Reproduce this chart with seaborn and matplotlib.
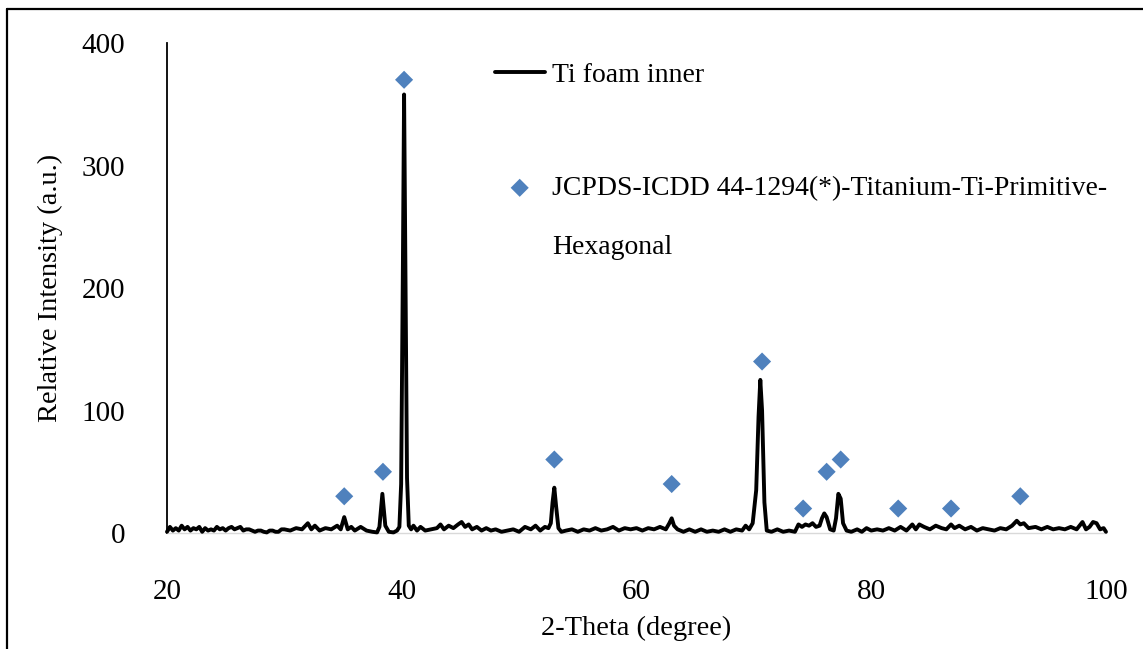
import matplotlib
matplotlib.use("Agg")
import matplotlib.pyplot as plt
from matplotlib.lines import Line2D
import seaborn as sns
import pandas as pd

two_theta = [
    20.0, 20.25, 20.5, 20.75, 21.0, 21.25, 21.5, 21.75, 22.0, 22.25,
    22.5, 22.75, 23.0, 23.25, 23.5, 23.75, 24.0, 24.25, 24.5, 24.75,
    25.0, 25.25, 25.5, 25.75, 26.0, 26.25, 26.5, 26.75, 27.0, 27.25,
    27.5, 27.75, 28.0, 28.25, 28.5, 28.75, 29.0, 29.25, 29.5, 29.75,
    30.0, 30.5, 31.0, 31.5, 32.0, 32.3, 32.6, 33.0, 33.5, 34.0, 34.5,
    34.8, 35.1, 35.4, 35.7, 36.0, 36.5, 37.0, 37.5,
    37.9, 38.1, 38.35, 38.6, 38.9, 39.3, 39.6,
    39.8, 39.95, 40.1, 40.2, 40.3, 40.45, 40.6, 40.8,
    41.0, 41.3, 41.6, 42.0, 42.5, 43.0, 43.3, 43.6, 44.0, 44.4,
    44.8, 45.1, 45.4, 45.7, 46.0, 46.4, 46.8, 47.2, 47.6, 48.0,
    48.5, 49.0, 49.5, 50.0, 50.5, 51.0, 51.4, 51.8, 52.2, 52.5,
    52.7, 52.85, 53.0, 53.15, 53.35, 53.6, 54.0, 54.5, 55.0, 55.5,
    56.0, 56.5, 57.0, 57.5, 58.0, 58.5, 59.0, 59.5, 60.0, 60.5,
    61.0, 61.5, 62.0, 62.5, 62.8, 63.0, 63.2, 63.5, 64.0, 64.5,
    65.0, 65.5, 66.0, 66.5, 67.0, 67.5, 68.0, 68.5, 69.0, 69.3,
    69.6, 69.9, 70.2, 70.4, 70.55, 70.7, 70.9, 71.1, 71.5, 72.0,
    72.5, 73.0, 73.5, 73.8, 74.1, 74.4, 74.7, 75.0, 75.3, 75.6,
    75.8, 76.0, 76.2, 76.5, 76.8, 77.0, 77.2, 77.4, 77.6, 77.9,
    78.3, 78.8, 79.2, 79.6, 80.0, 80.5, 81.0, 81.5, 82.0, 82.5,
    83.0, 83.5, 83.8, 84.1, 84.5, 85.0, 85.5, 86.0, 86.4, 86.8,
    87.1, 87.5, 88.0, 88.5, 89.0, 89.5, 90.0, 90.5, 91.0, 91.5,
    92.0, 92.4, 92.7, 93.0, 93.4, 94.0, 94.5, 95.0, 95.5, 96.0,
    96.5, 97.0, 97.5, 98.0, 98.3, 98.6, 98.9, 99.2, 99.5, 99.8, 100.0,
]
intensity = [
    1, 5, 2, 4, 2, 6, 3, 5, 2, 4,
    3, 5, 1, 4, 2, 3, 2, 5, 3, 4,
    2, 4, 5, 3, 4, 5, 2, 3, 3, 2,
    1, 2, 2, 1, 0.5, 2, 2, 1, 1, 3,
    3, 2, 4, 3, 8, 3, 6, 2, 4, 3, 6,
    3, 13, 3, 5, 2, 5, 2, 1,
    0.5, 5, 32, 6, 1, 0.5, 2,
    5, 40, 220, 358, 230, 45, 6, 3,
    6, 2, 5, 2, 3, 4, 7, 3, 6, 4,
    7, 9, 5, 7, 3, 5, 2, 4, 2, 3,
    1, 2, 3, 1, 5, 3, 6, 2, 5, 4,
    8, 25, 37, 22, 4, 1, 2, 3, 1, 3,
    2, 4, 2, 3, 5, 2, 4, 3, 4, 2,
    4, 3, 5, 3, 8, 12, 6, 3, 1, 3,
    1, 3, 1, 2, 1, 3, 1, 3, 2, 6,
    3, 8, 35, 95, 125, 100, 25, 2, 1, 3,
    1, 2, 1, 7, 5, 7, 6, 8, 5, 6,
    12, 16, 13, 3, 2, 12, 32, 28, 8, 2,
    1, 3, 1, 4, 2, 3, 2, 4, 2, 5,
    2, 7, 3, 7, 5, 3, 6, 4, 3, 7,
    4, 6, 3, 5, 2, 4, 3, 2, 4, 3,
    6, 10, 7, 8, 4, 5, 3, 5, 3, 4,
    3, 5, 3, 9, 3, 5, 9, 8, 3, 4, 1,
]

# reference peaks JCPDS-ICDD 44-1294
ref_theta = [35.1, 38.4, 40.2, 53.0, 63.0, 70.7, 74.2, 76.2, 77.4, 82.3, 86.8, 92.7]
ref_level = [30, 50, 370, 60, 40, 140, 20, 50, 60, 20, 20, 30]

sns.set_theme(style="white")
plt.rcParams["font.family"] = ["Liberation Serif", "DejaVu Serif"]
plt.rcParams["text.color"] = "black"
plt.rcParams["axes.labelcolor"] = "black"
plt.rcParams["xtick.color"] = "black"
plt.rcParams["ytick.color"] = "black"

fig = plt.figure(figsize=(11.43, 6.49), dpi=100)
ax = fig.add_axes([0.1461, 0.1787, 0.8215, 0.755])

df = pd.DataFrame({"theta": two_theta, "counts": intensity})
sns.lineplot(data=df, x="theta", y="counts", color="black", linewidth=2.8,
             label="Ti foam inner", ax=ax, clip_on=False, zorder=3)
sns.scatterplot(x=ref_theta, y=ref_level, marker="D", s=85, color="#4F81BD",
                edgecolor="none", label="JCPDS-ICDD 44-1294(*)-Titanium-Ti-Primitive-",
                ax=ax, zorder=4, clip_on=False)

ax.set_xlim(20, 100)
ax.set_ylim(0, 400)
ax.set_xticks([20, 40, 60, 80, 100])
ax.set_yticks([0, 100, 200, 300, 400])
ax.tick_params(axis="x", length=0, pad=33, labelsize=21)
ax.tick_params(axis="y", length=0, pad=30, labelsize=21)

for side in ["top", "right"]:
    ax.spines[side].set_visible(False)
ax.spines["left"].set_color("black")
ax.spines["left"].set_linewidth(1.3)
ax.spines["bottom"].set_color("#D9D9D9")
ax.spines["bottom"].set_linewidth(1.0)

ax.set_xlabel("2-Theta (degree)", fontsize=20.5)
ax.set_ylabel("Relative Intensity (a.u.)", fontsize=20.5)
ax.xaxis.set_label_coords(0.5, -0.169)
ax.yaxis.set_label_coords(-0.111, 0.5)

ax.legend(loc="upper left", bbox_to_anchor=(0.349, 0.961), frameon=False,
          fontsize=20, handlelength=1.8, handletextpad=0.25, labelspacing=3.17,
          borderpad=0, borderaxespad=0)
ax.text(0.41, 0.582, "Hexagonal", transform=ax.transAxes, fontsize=20,
        va="center", ha="left")

# outer chart frame (cut off on the right and bottom)
fig.add_artist(Line2D([7 / 1143, 1.0], [1 - 9 / 649, 1 - 9 / 649],
                      transform=fig.transFigure, color="black", linewidth=1.6))
fig.add_artist(Line2D([7 / 1143, 7 / 1143], [0.0, 1 - 9 / 649],
                      transform=fig.transFigure, color="black", linewidth=1.6))

fig.savefig("out.png", dpi=100)
